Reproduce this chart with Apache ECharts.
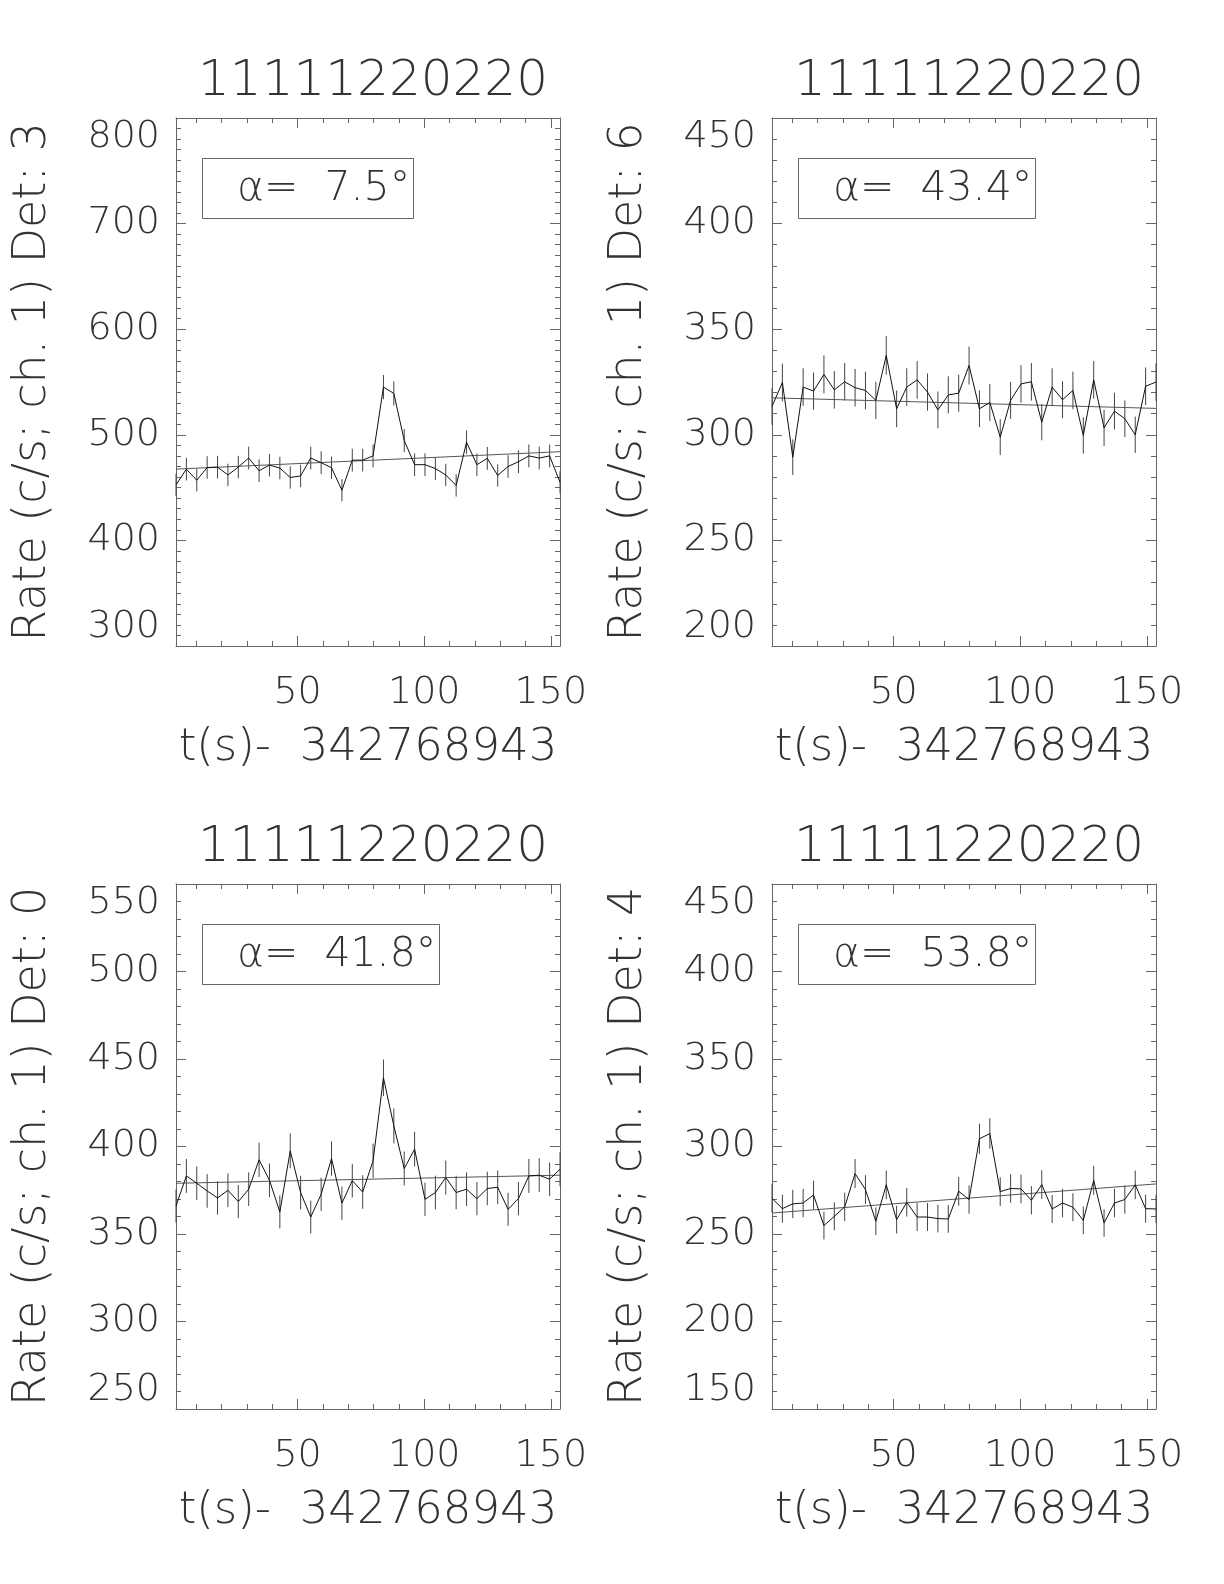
<!DOCTYPE html>
<html>
<head>
<meta charset="utf-8">
<script src="https://cdn.jsdelivr.net/npm/echarts@6/dist/echarts.min.js"></script>
<style>
html,body{margin:0;padding:0;background:#fff;}
#chart{width:1224px;height:1584px;}
</style>
</head>
<body>
<div id="chart"></div>
<script>
// ---------------- DATA ----------------
const plotTitle = '11111220220';
const xAxisName = 't(s)-  342768943';
const detectors = ['3', '6', '0', '4'];
const alphas = ['7.5', '43.4', '41.8', '53.8'];

const times = [2.0, 6.1, 10.2, 14.3, 18.4, 22.5, 26.6, 30.7, 34.8, 38.9,
  43.0, 47.1, 51.2, 55.2, 59.3, 63.4, 67.5, 71.6, 75.7, 79.8,
  83.9, 88.0, 92.1, 96.2, 100.3, 104.4, 108.5, 112.6, 116.7, 120.8,
  124.9, 129.0, 133.1, 137.2, 141.3, 145.4, 149.5, 153.6];

const xTickValues = [50, 100, 150];
const xMinorTickValues = [10, 20, 30, 40, 60, 70, 80, 90, 110, 120, 130, 140];

// Det 3
const rateDet3 = [452.5, 467.5, 457, 469, 469.4, 462, 469.4, 478, 466, 471.3,
  468.5, 459.6, 461, 478, 473.6, 468.8, 447.5, 476, 476, 480,
  545.2, 539.2, 494.6, 471.7, 471.7, 468, 462, 452, 493, 471.7,
  477.7, 461.5, 470, 474.5, 480, 478, 480, 455];
const errDet3 = [10.5, 10.7, 10.6, 10.7, 10.7, 10.6, 10.7, 10.8, 10.7, 10.7,
  10.7, 10.6, 10.6, 10.8, 10.8, 10.7, 10.5, 10.8, 10.8, 10.8,
  11.5, 11.5, 11.0, 10.7, 10.7, 10.7, 10.6, 10.5, 11.0, 10.7,
  10.8, 10.6, 10.7, 10.8, 10.8, 10.8, 10.8, 10.5];
const fitDet3 = [467.5, 484.0];
const yTicksDet3 = [300, 400, 500, 600, 700, 800];

// Det 6
const rateDet6 = [313.4, 324.8, 289.4, 322.6, 320.7, 328.6, 321.3, 325.1, 322.3, 321,
  316.3, 337.6, 312.3, 322.6, 326, 320.2, 311.8, 318.9, 319.7, 332.8,
  312.3, 315.3, 298.9, 316.3, 324.1, 325.1, 306, 322.6, 316.6, 321,
  299.7, 326, 303.3, 311.2, 307.6, 300, 323, 325];
const errDet6 = [8.7, 8.9, 8.4, 8.9, 8.8, 9.0, 8.9, 8.9, 8.9, 8.9,
  8.8, 9.1, 8.7, 8.9, 8.9, 8.8, 8.7, 8.8, 8.8, 9.0,
  8.7, 8.8, 8.5, 8.8, 8.9, 8.9, 8.6, 8.9, 8.8, 8.9,
  8.6, 8.9, 8.6, 8.7, 8.7, 8.6, 8.9, 8.9];
const fitDet6 = [317.5, 312.5];
const yTicksDet6 = [200, 250, 300, 350, 400, 450];

// Det 0
const rateDet0 = [366, 383.2, 379, 374.6, 370.6, 375, 368.5, 375.6, 392.4, 380.7,
  362.6, 397.5, 373.7, 359.7, 372.7, 393.1, 367.6, 380.5, 374, 391.8,
  439.3, 411.8, 387.4, 398.5, 369.8, 373.7, 382.3, 373.7, 375.6, 370.2,
  376, 376.7, 364.1, 370.2, 383.2, 383.6, 381.3, 387];
const errDet0 = [9.5, 9.7, 9.6, 9.6, 9.5, 9.6, 9.5, 9.6, 9.8, 9.6,
  9.4, 9.9, 9.6, 9.4, 9.5, 9.8, 9.5, 9.6, 9.6, 9.8,
  10.4, 10.0, 9.7, 9.9, 9.5, 9.6, 9.7, 9.6, 9.6, 9.5,
  9.6, 9.6, 9.4, 9.5, 9.7, 9.7, 9.6, 9.7];
const fitDet0 = [379.0, 383.6];
const yTicksDet0 = [250, 300, 350, 400, 450, 500, 550];

// Det 4
const rateDet4 = [270.4, 264.5, 267.2, 267.7, 272.3, 254.8, 260.1, 265.5, 284.5, 275.4,
  257.3, 278.1, 258.2, 268.1, 259.7, 259.7, 258.8, 258.6, 274.4, 269.7,
  304.4, 307.4, 274.2, 276, 275.8, 269.3, 278.2, 264.3, 267.7, 265.3,
  257.8, 280.7, 256.3, 267.7, 269.7, 278.1, 264.5, 264.3];
const errDet4 = [8.1, 8.0, 8.1, 8.1, 8.2, 7.9, 8.0, 8.1, 8.3, 8.2,
  7.9, 8.2, 7.9, 8.1, 8.0, 8.0, 7.9, 7.9, 8.2, 8.1,
  8.6, 8.7, 8.2, 8.2, 8.2, 8.1, 8.2, 8.0, 8.1, 8.0,
  7.9, 8.3, 7.9, 8.1, 8.1, 8.2, 8.0, 8.0];
const fitDet4 = [262.0, 278.6];
const yTicksDet4 = [150, 200, 250, 300, 350, 400, 450];

// ---------------- LAYOUT / STYLE ----------------
const FONT = 'DejaVu Sans';
const TXT = '#333';
const AX = '#666';
const panels = [
  {rate: rateDet3, err: errDet3, fit: fitDet3, yTicks: yTicksDet3, minorSplit: 10, det: detectors[0], alpha: alphas[0], grid: {left: 176, top: 118, width: 384, height: 528}},
  {rate: rateDet6, err: errDet6, fit: fitDet6, yTicks: yTicksDet6, minorSplit: 5, det: detectors[1], alpha: alphas[1], grid: {left: 772, top: 118, width: 384, height: 528}},
  {rate: rateDet0, err: errDet0, fit: fitDet0, yTicks: yTicksDet0, minorSplit: 5, det: detectors[2], alpha: alphas[2], grid: {left: 176, top: 884, width: 384, height: 525}},
  {rate: rateDet4, err: errDet4, fit: fitDet4, yTicks: yTicksDet4, minorSplit: 5, det: detectors[3], alpha: alphas[3], grid: {left: 772, top: 884, width: 384, height: 525}}
];

const tMin = times[0], tMax = times[times.length - 1];
const option = {backgroundColor: '#fff', animation: false, grid: [], xAxis: [], yAxis: [], series: [], title: []};

panels.forEach((p, i) => {
  option.grid.push(Object.assign({}, p.grid));
  const cx = p.grid.left + p.grid.width / 2;
  option.title.push({
    text: plotTitle, left: cx, top: p.grid.top - 68, textAlign: 'center',
    textStyle: {fontFamily: FONT, fontSize: 50, fontWeight: 'lighter', color: TXT, lineHeight: 54}
  });
  option.title.push({
    text: 'α=  ' + p.alpha + '°',
    left: p.grid.left + 26, top: p.grid.top + 40,
    borderColor: AX, borderWidth: 1, padding: [7, 4, 6, 35],
    textStyle: {fontFamily: FONT, fontSize: 41, fontWeight: 'lighter', color: TXT, lineHeight: 48}
  });
  const base = i * 4;
  const common = {type: 'value', gridIndex: i, min: tMin, max: tMax, splitLine: {show: false}};
  // bottom major
  option.xAxis.push(Object.assign({}, common, {
    position: 'bottom', name: xAxisName, nameLocation: 'middle', nameGap: 80,
    nameTextStyle: {fontFamily: FONT, fontSize: 45, fontWeight: 'lighter', color: TXT},
    axisLine: {show: true, onZero: false, lineStyle: {color: AX, width: 1}},
    axisTick: {show: true, inside: true, length: 10, customValues: xTickValues, lineStyle: {color: AX}},
    axisLabel: {show: true, customValues: xTickValues, margin: 28, fontFamily: FONT, fontSize: 38, fontWeight: 'lighter', color: TXT}
  }));
  // bottom minor
  option.xAxis.push(Object.assign({}, common, {
    position: 'bottom',
    axisLine: {show: false, onZero: false},
    axisTick: {show: true, inside: true, length: 5, customValues: xMinorTickValues, lineStyle: {color: AX}},
    axisLabel: {show: false}
  }));
  // top major
  option.xAxis.push(Object.assign({}, common, {
    position: 'top',
    axisLine: {show: true, onZero: false, lineStyle: {color: AX, width: 1}},
    axisTick: {show: true, inside: true, length: 10, customValues: xTickValues, lineStyle: {color: AX}},
    axisLabel: {show: false}
  }));
  // top minor
  option.xAxis.push(Object.assign({}, common, {
    position: 'top',
    axisLine: {show: false, onZero: false},
    axisTick: {show: true, inside: true, length: 5, customValues: xMinorTickValues, lineStyle: {color: AX}},
    axisLabel: {show: false}
  }));
  const yMin = p.yTicks[0], yMax = p.yTicks[p.yTicks.length - 1], yInt = p.yTicks[1] - p.yTicks[0];
  const ycommon = {type: 'value', gridIndex: i, min: yMin, max: yMax, interval: yInt, splitLine: {show: false}};
  option.yAxis.push(Object.assign({}, ycommon, {
    position: 'left',
    name: 'Rate (c/s; ch. 1) Det: ' + p.det, nameLocation: 'middle', nameGap: 120,
    nameTextStyle: {fontFamily: FONT, fontSize: 46, fontWeight: 'lighter', color: TXT},
    axisLine: {show: true, onZero: false, lineStyle: {color: AX, width: 1}},
    axisTick: {show: true, inside: true, length: 10, lineStyle: {color: AX}},
    minorTick: {show: true, splitNumber: p.minorSplit, length: 5, lineStyle: {color: AX}},
    axisLabel: {show: true, margin: 16, fontFamily: FONT, fontSize: 38, fontWeight: 'lighter', color: TXT,
      verticalAlignMinLabel: 'bottom', verticalAlignMaxLabel: 'top'}
  }));
  option.yAxis.push(Object.assign({}, ycommon, {
    position: 'right',
    axisLine: {show: true, onZero: false, lineStyle: {color: AX, width: 1}},
    axisTick: {show: true, inside: true, length: 10, lineStyle: {color: AX}},
    minorTick: {show: true, splitNumber: p.minorSplit, length: 5, lineStyle: {color: AX}},
    axisLabel: {show: false}
  }));
  const yBase = i * 2;
  // error bars
  option.series.push({
    type: 'custom', xAxisIndex: base, yAxisIndex: yBase, silent: true,
    data: times.map((t, k) => [t, p.rate[k], p.err[k]]),
    encode: {x: 0, y: 1},
    clip: false,
    renderItem: function (params, api) {
      const t = api.value(0), r = api.value(1), e = api.value(2);
      const a = api.coord([t, r - e]);
      const b = api.coord([t, r + e]);
      return {type: 'line', shape: {x1: a[0], y1: a[1], x2: b[0], y2: b[1]},
        style: {stroke: '#444', lineWidth: 1}};
    }
  });
  // fit line
  option.series.push({
    type: 'line', xAxisIndex: base, yAxisIndex: yBase, silent: true, showSymbol: false, symbol: 'none',
    data: [[tMin, p.fit[0]], [tMax, p.fit[1]]],
    lineStyle: {color: '#555', width: 1}
  });
  // data
  option.series.push({
    type: 'line', xAxisIndex: base, yAxisIndex: yBase, silent: true, showSymbol: false, symbol: 'none',
    data: times.map((t, k) => [t, p.rate[k]]),
    lineStyle: {color: '#111', width: 1}
  });
});

const chart = echarts.init(document.getElementById('chart'), null, {renderer: 'canvas'});
chart.setOption(option);
</script>
</body>
</html>
